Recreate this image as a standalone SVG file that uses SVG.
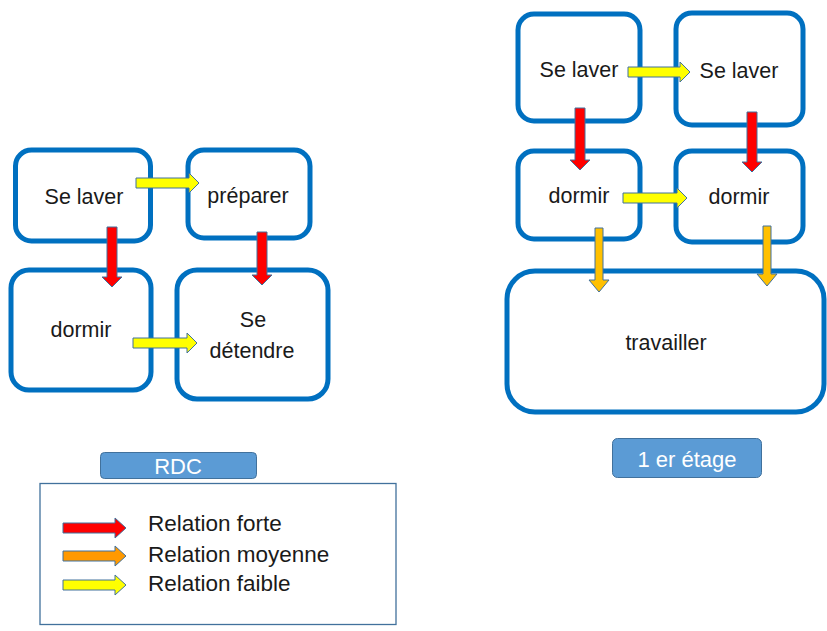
<svg xmlns="http://www.w3.org/2000/svg" width="827" height="631" viewBox="0 0 827 631">
  <style>
    .box { fill: #ffffff; stroke: #0070C0; stroke-width: 5; }
    .lbl { font-family: "Liberation Sans", Arial, sans-serif; font-size: 21.5px; fill: #1a1a1a; text-anchor: middle; }
    .tag { fill: #5B9BD5; stroke: #41719C; stroke-width: 1; }
    .tagtxt { font-family: "Liberation Sans", Arial, sans-serif; font-size: 22px; fill: #ffffff; text-anchor: middle; }
    .legend { fill: #ffffff; stroke: #41719C; stroke-width: 1.3; }
    .legtxt { font-family: "Liberation Sans", Arial, sans-serif; font-size: 22.5px; fill: #1a1a1a; }
    .arr { stroke: #41719C; stroke-width: 1; stroke-linejoin: miter; }
    .strong { fill: #FF0000; }
    .medium { fill: #FF9900; }
    .weak { fill: #FFFF00; }
    .floor { fill: #FFC000; }
  </style>

  <!-- Ground floor -->
  <g id="rdc-se-laver">
    <rect class="box" x="15.5" y="150" width="135" height="91" rx="16"/>
    <text class="lbl" x="84" y="204">Se laver</text>
  </g>
  <g id="rdc-preparer">
    <rect class="box" x="188" y="150" width="122" height="88" rx="16"/>
    <text class="lbl" x="248" y="203">préparer</text>
  </g>
  <g id="rdc-dormir">
    <rect class="box" x="11" y="270" width="140" height="120" rx="18"/>
    <text class="lbl" x="81" y="337">dormir</text>
  </g>
  <g id="rdc-se-detendre">
    <rect class="box" x="177" y="270" width="151" height="129" rx="20"/>
    <text class="lbl" x="253" y="327">Se</text>
    <text class="lbl" x="252" y="358">détendre</text>
  </g>

  <!-- First floor -->
  <g id="et1-se-laver-a">
    <rect class="box" x="518" y="14" width="122" height="107" rx="16"/>
    <text class="lbl" x="579" y="77">Se laver</text>
  </g>
  <g id="et1-se-laver-b">
    <rect class="box" x="676" y="13" width="127" height="112" rx="16"/>
    <text class="lbl" x="739" y="78">Se laver</text>
  </g>
  <g id="et1-dormir-a">
    <rect class="box" x="518" y="151" width="122" height="88" rx="16"/>
    <text class="lbl" x="579" y="203">dormir</text>
  </g>
  <g id="et1-dormir-b">
    <rect class="box" x="676" y="151" width="127" height="91" rx="16"/>
    <text class="lbl" x="739" y="204">dormir</text>
  </g>
  <g id="et1-travailler">
    <rect class="box" x="507" y="271" width="317" height="141" rx="28"/>
    <text class="lbl" x="666" y="350">travailler</text>
  </g>

  <!-- Floor tags -->
  <g id="tag-rdc">
    <rect class="tag" x="100.5" y="452.5" width="156" height="26" rx="4"/>
    <text class="tagtxt" x="178" y="474">RDC</text>
  </g>
  <g id="tag-etage">
    <rect class="tag" x="612.5" y="438.5" width="149" height="39" rx="5"/>
    <text class="tagtxt" x="687" y="467">1 er étage</text>
  </g>

  <!-- Connectors -->
  <g id="connectors" class="arr">
    <!-- ground floor -->
    <path class="weak" d="M136,178 H189 V173 L199,183 L189,193 V188 H136 Z"/>
    <path class="strong" d="M107,227 V277 H102 L112,287 L122,277 H117 V227 Z"/>
    <path class="strong" d="M257,232 V275 H252 L262,285 L272,275 H267 V232 Z"/>
    <path class="weak" d="M133,338 H187 V333 L197,343 L187,353 V348 H133 Z"/>
    <!-- first floor -->
    <path class="weak" d="M628,67 H680 V62 L690,72 L680,82 V77 H628 Z"/>
    <path class="weak" d="M623,193 H677 V188 L687,198 L677,208 V203 H623 Z"/>
    <path class="strong" d="M575,108 V160 H570 L580,170 L590,160 H585 V108 Z"/>
    <path class="strong" d="M747,112 V162 H742 L752,172 L762,162 H757 V112 Z"/>
    <path class="floor" d="M595,228 V280 H589 L599,292 L609,280 H603 V228 Z"/>
    <path class="floor" d="M763,226 V274 H757 L767,286 L777,274 H771 V226 Z"/>
  </g>

  <!-- Legend -->
  <g id="legend">
    <rect class="legend" x="40" y="483.5" width="356" height="141"/>
    <g class="arr">
      <path class="strong" d="M63,523 H115 V518 L126,528 L115,538 V533 H63 Z"/>
      <path class="medium" d="M63,551 H115 V546 L126,556 L115,566 V561 H63 Z"/>
      <path class="weak" d="M63,580 H115 V575 L126,585 L115,595 V590 H63 Z"/>
    </g>
    <text class="legtxt" x="148" y="531">Relation forte</text>
    <text class="legtxt" x="148" y="562">Relation moyenne</text>
    <text class="legtxt" x="148" y="591">Relation faible</text>
  </g>
</svg>
